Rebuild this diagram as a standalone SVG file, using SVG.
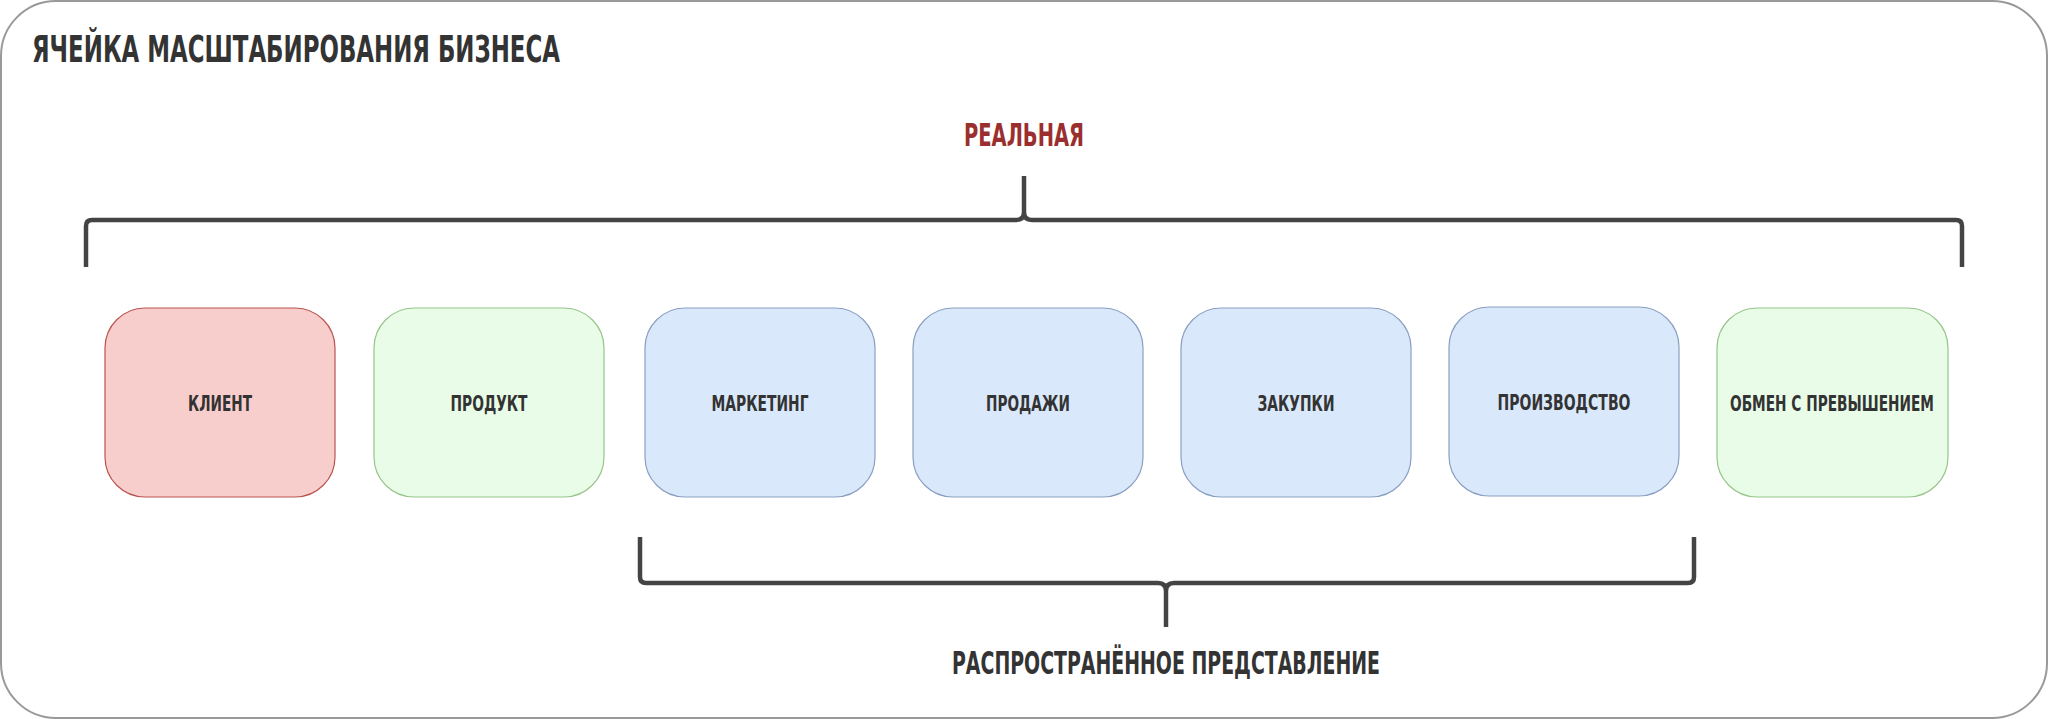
<svg xmlns="http://www.w3.org/2000/svg" width="2048" height="719" viewBox="0 0 2048 719">
<style>
text{font-family:"DejaVu Sans Condensed","Liberation Sans",sans-serif;font-weight:bold;fill:#333;text-anchor:middle}
.box{stroke-width:1.2}
.red{fill:#f8cecc;stroke:#b85450}
.green{fill:#e8fce8;stroke:#97c48a}
.blue{fill:#dae8fc;stroke:#8a9fc0}
.lbl{font-size:22px}
.br{fill:none;stroke:#444;stroke-width:4.5;stroke-linejoin:round}
</style>
<rect x="1" y="1" width="2046" height="717" rx="55" fill="#fff" stroke="#999" stroke-width="2"/>
<text x="32" y="62" style="text-anchor:start;font-size:38px" textLength="528" lengthAdjust="spacingAndGlyphs">ЯЧЕЙКА МАСШТАБИРОВАНИЯ БИЗНЕСА</text>
<g id="connectors">
<path class="br" d="M86 267 V226 Q86 220 92 220 H1016 Q1024 220 1024 212 V176 M1024 176 V212 Q1024 220 1032 220 H1956 Q1962 220 1962 226 V267"/>
<path class="br" d="M640 537 V577 Q640 583 646 583 H1158 Q1166 583 1166 591 V627 M1166 627 V591 Q1166 583 1174 583 H1688 Q1694 583 1694 577 V537"/>
</g>
<g id="label-real"><text x="1024" y="146" style="font-size:32px;fill:#9b2f2f" textLength="120" lengthAdjust="spacingAndGlyphs">РЕАЛЬНАЯ</text></g>
<g id="label-spread"><text x="1166" y="674" style="font-size:32px" textLength="428" lengthAdjust="spacingAndGlyphs">РАСПРОСТРАНЁННОЕ ПРЕДСТАВЛЕНИЕ</text></g>
<g id="n1"><rect class="box red" x="105" y="308" width="230" height="189" rx="40"/><text class="lbl" x="220" y="411" textLength="64" lengthAdjust="spacingAndGlyphs">КЛИЕНТ</text></g>
<g id="n2"><rect class="box green" x="374" y="308" width="230" height="189" rx="40"/><text class="lbl" x="489" y="411" textLength="77" lengthAdjust="spacingAndGlyphs">ПРОДУКТ</text></g>
<g id="n3"><rect class="box blue" x="645" y="308" width="230" height="189" rx="40"/><text class="lbl" x="760" y="411" textLength="97" lengthAdjust="spacingAndGlyphs">МАРКЕТИНГ</text></g>
<g id="n4"><rect class="box blue" x="913" y="308" width="230" height="189" rx="40"/><text class="lbl" x="1028" y="411" textLength="84" lengthAdjust="spacingAndGlyphs">ПРОДАЖИ</text></g>
<g id="n5"><rect class="box blue" x="1181" y="308" width="230" height="189" rx="40"/><text class="lbl" x="1296" y="411" textLength="77" lengthAdjust="spacingAndGlyphs">ЗАКУПКИ</text></g>
<g id="n6"><rect class="box blue" x="1449" y="307" width="230" height="189" rx="40"/><text class="lbl" x="1564" y="410" textLength="133" lengthAdjust="spacingAndGlyphs">ПРОИЗВОДСТВО</text></g>
<g id="n7"><rect class="box green" x="1717" y="308" width="231" height="189" rx="40"/><text class="lbl" x="1832" y="411" textLength="204" lengthAdjust="spacingAndGlyphs">ОБМЕН С ПРЕВЫШЕНИЕМ</text></g>
</svg>
